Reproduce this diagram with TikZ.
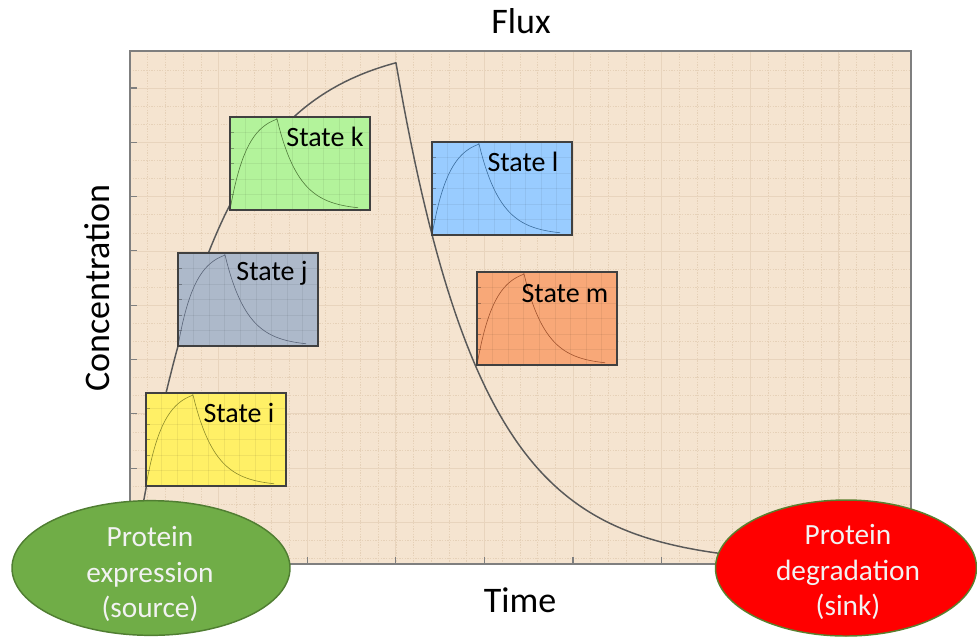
\documentclass[tikz,border=0pt]{standalone}
\usepackage{fontspec}
\setmainfont{Carlito}
\usetikzlibrary{shapes.geometric}

\definecolor{plotbg}{HTML}{F5E4D0}
\definecolor{gridminor}{HTML}{E6D1B8}
\definecolor{gridmajor}{HTML}{E8D4BD}
\definecolor{axisgray}{HTML}{7F7F7F}
\definecolor{curvegray}{HTML}{595959}
\definecolor{boxi}{HTML}{FFF066}
\definecolor{boxj}{HTML}{ADB9CA}
\definecolor{boxk}{HTML}{B3F39B}
\definecolor{boxl}{HTML}{99CCFF}
\definecolor{boxm}{HTML}{F8A878}
\definecolor{curvei}{HTML}{8C8A2A}
\definecolor{curvej}{HTML}{5A6478}
\definecolor{curvek}{HTML}{4F7A3A}
\definecolor{curvel}{HTML}{3C6E9E}
\definecolor{curvem}{HTML}{A0522D}
\definecolor{srcgreen}{HTML}{70AD47}
\definecolor{srcedge}{HTML}{507E32}
\definecolor{sinkred}{HTML}{FF0000}
\definecolor{sinkedge}{HTML}{5A7F2E}
\definecolor{lighttext}{HTML}{F2F2F2}

% one small state chart: name, left x, top y, fill, curve colour, label, label x, label baseline y
\newcommand{\statechart}[8]{%
  \node[stbox, fill=#4] (#1) at ({#2+70},{#3+46.5}) {};
  \begin{scope}
    \clip (#1.south west) rectangle (#1.north east);
    \foreach \i in {1,...,8} \draw[innergrid] ({#2+15.56*\i},#3) -- ({#2+15.56*\i},{#3+93});
    \foreach \j in {1,...,5} \draw[innergrid] (#2,{#3+15.5*\j}) -- ({#2+140},{#3+15.5*\j});
    \foreach \j in {1,...,5} \draw[innertick] (#2,{#3+15.5*\j}) -- ({#2+4},{#3+15.5*\j});
  \end{scope}
  \draw[minicurve, #5]
    plot[domain=0:47, samples=30] ({#2+\x},{#3+93-97*(1-exp(-\x/17))})
    -- plot[domain=47:128, samples=40] ({#2+\x},{#3+93-91*exp(-(\x-47)/22)});
  \draw[stedge] (#1.south west) rectangle (#1.north east);
  \node[stlabel] (#1label) at (#7,#8) {#6};
}

\begin{document}
\begin{tikzpicture}[x=0.75pt,y=-0.75pt,
  minorgrid/.style={gridminor, line width=0.45pt, dash pattern=on 1pt off 1pt},
  majorgrid/.style={gridmajor, line width=0.6pt},
  axisframe/.style={axisgray, line width=1.3pt},
  axistick/.style={axisgray, line width=0.8pt},
  fluxcurve/.style={curvegray, line width=1.1pt, line join=round},
  stbox/.style={rectangle, draw=none, minimum width=105pt, minimum height=69.75pt, inner sep=0pt, outer sep=0pt},
  stedge/.style={draw=black!75, line width=0.8pt},
  innergrid/.style={black, opacity=0.06, line width=0.45pt},
  innertick/.style={black, opacity=0.3, line width=0.4pt},
  minicurve/.style={line width=0.45pt},
  stlabel/.style={anchor=base, inner sep=0pt, font=\fontsize{21}{25}\selectfont},
  axislabel/.style={anchor=base, inner sep=0pt, font=\fontsize{27}{32}\selectfont},
  pool/.style={ellipse, line width=1.1pt, inner sep=0pt, align=center, text=lighttext,
               font=\fontsize{22}{26.5}\selectfont}
]
\useasboundingbox (0,0) rectangle (977,637);

% plot area
\fill[plotbg] (130,51) rectangle (911,564);
\foreach \i in {1,...,43} \draw[minorgrid] ({130+17.72*\i},51) -- ({130+17.72*\i},564);
\foreach \j in {-1,...,26} \draw[minorgrid] (130,{88+18.1*\j}) -- (911,{88+18.1*\j});
\foreach \k in {1,...,8} \draw[majorgrid] ({130+88.6*\k},51) -- ({130+88.6*\k},564);
\foreach \k in {0,...,8} \draw[majorgrid] (130,{88+54.3*\k}) -- (911,{88+54.3*\k});

% concentration over time: rise to the peak, then decay
\draw[fluxcurve]
  plot[domain=140:396, samples=80] (\x,{510-470*(1-exp(-(\x-142)/83.9))})
  -- plot[domain=396:725, samples=90] (\x,{565-502*exp(-(\x-396)/86)});

% frame and ticks
\draw[axisframe] (130,51) rectangle (911,564);
\foreach \k in {0,...,8} \draw[axistick] (130,{88+54.3*\k}) -- (137,{88+54.3*\k});
\foreach \k in {1,...,8} \draw[axistick] ({130+88.6*\k},564) -- ({130+88.6*\k},557);

% state charts
\statechart{sti}{146}{393}{boxi}{curvei}{State i}{239}{422}
\statechart{stj}{178}{253}{boxj}{curvej}{State j}{272}{280}
\statechart{stk}{230}{117}{boxk}{curvek}{State k}{325}{146}
\statechart{stl}{432}{142}{boxl}{curvel}{State l}{523}{171}
\statechart{stm}{477}{272}{boxm}{curvem}{State m}{565}{302}

% axis labels
\node[axislabel] (flux) at (521,33) {Flux};
\node[axislabel] (time) at (520,612) {Time};
\node[axislabel, anchor=center, rotate=90] (conc) at (97,288) {Concentration};

% source and sink
\node[pool, fill=srcgreen, draw=srcedge, minimum width=208.5pt, minimum height=101pt]
  (source) at (151,568) {};
\node[align=center, text=lighttext, inner sep=0pt, font=\fontsize{22}{26.5}\selectfont]
  (sourcetext) at (150,574) {Protein\\expression\\(source)};
\node[pool, fill=sinkred, draw=sinkedge, minimum width=195.75pt, minimum height=102pt]
  (sink) at (846,568) {};
\node[align=center, text=lighttext, inner sep=0pt, font=\fontsize{22}{26.5}\selectfont]
  (sinktext) at (848,572) {Protein\\degradation\\(sink)};
\end{tikzpicture}
\end{document}
